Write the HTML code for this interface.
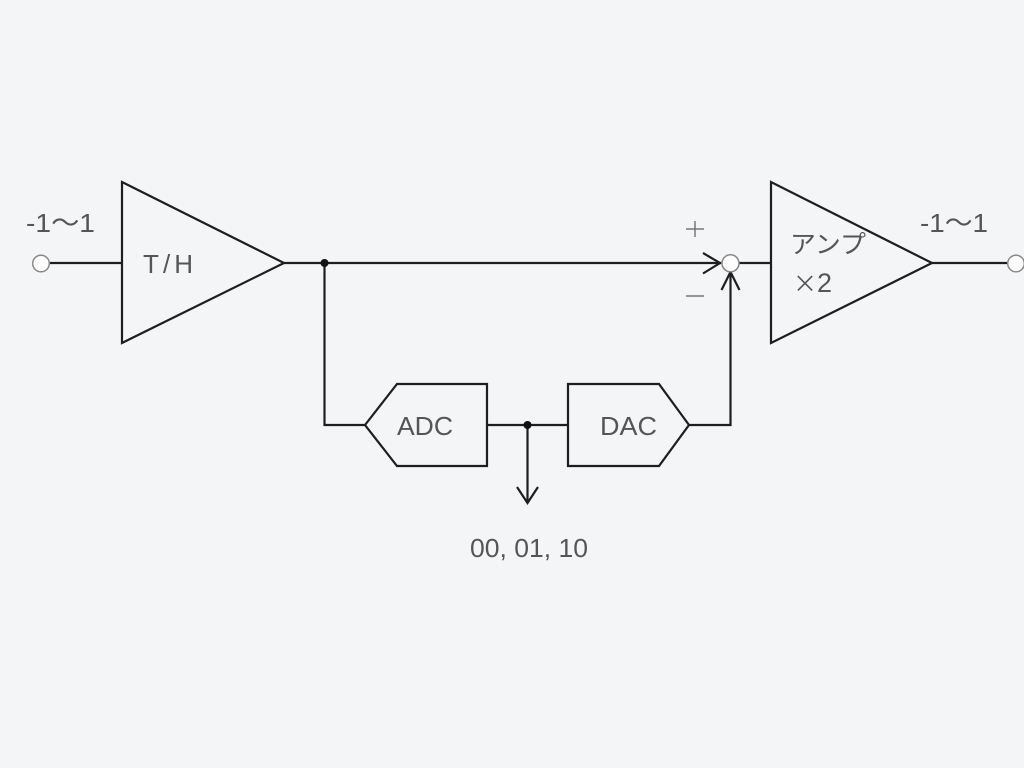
<!DOCTYPE html>
<html>
<head>
<meta charset="utf-8">
<style>
  html, body { margin: 0; padding: 0; background: #f4f5f7; }
  svg { display: block; }
  text { font-family: "Liberation Sans", "Noto Sans CJK JP", sans-serif; fill: #555; }
</style>
</head>
<body>
<svg width="1024" height="768" viewBox="0 0 1024 768" xmlns="http://www.w3.org/2000/svg">
  <rect x="0" y="0" width="1024" height="768" fill="#f4f5f7"/>
  <g stroke="#1e1e1e" stroke-width="2.2" fill="none" stroke-linejoin="miter">
    <line x1="50" y1="263" x2="122" y2="263"/>
    <polygon points="122,182 122,343 284,263"/>
    <line x1="284" y1="263" x2="721" y2="263"/>
    <polyline points="703,253 720,263 703,273.5"/>
    <polyline points="324.5,263 324.5,425 365,425"/>
    <polygon points="365,425 397,384 487,384 487,466 397,466"/>
    <line x1="487" y1="425" x2="568" y2="425"/>
    <polygon points="568,384 659,384 689,425 659,466 568,466"/>
    <line x1="527.5" y1="425" x2="527.5" y2="503"/>
    <polyline points="517,487 527.5,503 538,487"/>
    <polyline points="689,425 730.5,425 730.5,272"/>
    <polyline points="721.5,290 730.5,272 739.5,290"/>
    <line x1="739" y1="263" x2="771" y2="263"/>
    <polygon points="771,182 771,343 932,263"/>
    <line x1="932" y1="263" x2="1007" y2="263"/>
  </g>
  <circle cx="324.5" cy="263" r="4" fill="#111"/>
  <circle cx="527.5" cy="425" r="4" fill="#111"/>
  <circle cx="41" cy="263.5" r="8.3" fill="#fff" stroke="#888" stroke-width="1.5"/>
  <circle cx="730.5" cy="263.3" r="8.5" fill="#fff" stroke="#888" stroke-width="1.5"/>
  <circle cx="1016" cy="263.5" r="8.3" fill="#fff" stroke="#888" stroke-width="1.5"/>

  <text x="26" y="232" font-size="26" textLength="69" lengthAdjust="spacingAndGlyphs">-1～1</text>
  <text x="920" y="232" font-size="26" textLength="68" lengthAdjust="spacingAndGlyphs">-1～1</text>
  <text x="143" y="273" font-size="26" textLength="50" lengthAdjust="spacing">T/H</text>
  <text x="790" y="253" font-size="25" textLength="76" lengthAdjust="spacingAndGlyphs">アンプ</text>
  <text x="793" y="292" font-size="24" style="font-family:'Noto Sans CJK JP', sans-serif;">×</text>
  <text x="817" y="292" font-size="27">2</text>
  <text x="397" y="435" font-size="26" textLength="56" lengthAdjust="spacingAndGlyphs">ADC</text>
  <text x="600" y="435" font-size="26" textLength="57" lengthAdjust="spacingAndGlyphs">DAC</text>
  <text x="470" y="557" font-size="26" textLength="118" lengthAdjust="spacingAndGlyphs">00, 01, 10</text>
  <g stroke="#777" stroke-width="1.5">
    <line x1="686" y1="229" x2="704" y2="229"/>
    <line x1="695" y1="221" x2="695" y2="237"/>
    <line x1="686" y1="296" x2="704" y2="296"/>
  </g>
</svg>
</body>
</html>
